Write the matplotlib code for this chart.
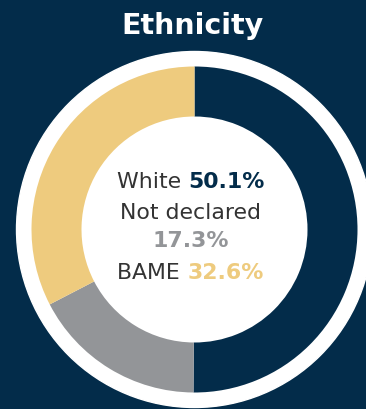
import matplotlib.pyplot as plt
from matplotlib.patches import Circle

labels = ["White", "Not declared", "BAME"]
values = [50.1, 17.3, 32.6]
colors = ["#032c4a", "#939598", "#eecb7e"]

bg = "#032c4a"
W, H = 366, 410
cx, cy = 194.5, H - 230.5

fig = plt.figure(figsize=(W / 100, H / 100), dpi=100, facecolor=bg)
ax = fig.add_axes([0, 0, 1, 1])

# white outer ring
ax.add_patch(Circle((cx, cy), 178, color="white", zorder=1))

# donut
ax.pie(values, colors=colors, startangle=90, counterclock=False,
       center=(cx, cy), radius=163, frame=True,
       wedgeprops=dict(width=163 - 113, linewidth=0))
ax.set_xlim(0, W)
ax.set_ylim(0, H)
ax.set_aspect("equal")
ax.axis("off")

ax.text(193, H - 26, "Ethnicity", color="white", fontsize=20.5,
        fontweight="bold", family="DejaVu Sans", ha="center", va="center")

fs = 15.8
dark = "#333333"
fam = "DejaVu Sans"
renderer = fig.canvas.get_renderer()


def two_part(x, y, left, right, rcolor):
    a = ax.text(0, y, left + " ", color=dark, fontsize=fs, family=fam,
                ha="left", va="center")
    b = ax.text(0, y, right, color=rcolor, fontsize=fs, family=fam,
                fontweight="bold", ha="left", va="center")
    wa = a.get_window_extent(renderer).width
    wb = b.get_window_extent(renderer).width
    x0 = x - (wa + wb) / 2
    a.set_x(x0)
    b.set_x(x0 + wa)


two_part(190.5, H - 182, labels[0], f"{values[0]}%", colors[0])
ax.text(190.5, H - 213, labels[1], color=dark, fontsize=fs,
        family=fam, ha="center", va="center")
ax.text(190.5, H - 241, f"{values[1]}%", color=colors[1], fontsize=fs,
        family=fam, fontweight="bold", ha="center", va="center")
two_part(190.5, H - 273, labels[2], f"{values[2]}%", colors[2])

fig.savefig("out.png", dpi=100, facecolor=bg)
